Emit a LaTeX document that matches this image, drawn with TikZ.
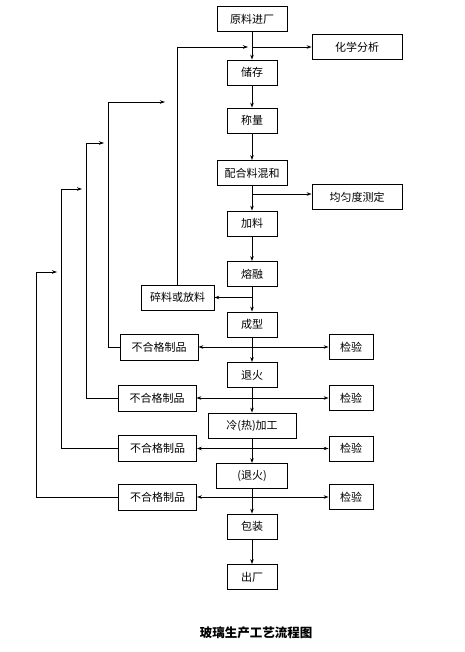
\documentclass[tikz,border=0pt]{standalone}
\usepackage{fontspec}
\newfontfamily\cjk{Noto Sans CJK SC}
\usetikzlibrary{arrows.meta}

\begin{document}
\begin{tikzpicture}[x=1pt,y=-1pt,line width=0.8pt,>={Stealth[length=5pt,width=3.5pt]},font=\cjk\fontsize{11}{13}\selectfont]
  \tikzstyle{stage}=[draw,minimum width=50pt,minimum height=25pt,inner sep=2pt]
  \tikzstyle{test}=[draw,minimum width=90pt,minimum height=25pt,inner sep=2pt]
  \tikzstyle{reject}=[draw,minimum width=78pt,minimum height=26pt,inner sep=2pt]
  \tikzstyle{check}=[draw,minimum width=44pt,minimum height=25pt,inner sep=2pt]
  \useasboundingbox (0,0) rectangle (464,652);
  % main line
  \node[stage,minimum width=70pt] (raw) at (252,19) {原料进厂};
  \node[stage] (store) at (252,72.5) {储存};
  \node[stage] (weigh) at (252,120.5) {称量};
  \node[stage,minimum width=70pt] (mix) at (252,173) {配合料混和};
  \node[stage] (feed) at (252,223.5) {加料};
  \node[stage] (melt) at (252,274) {熔融};
  \node[stage] (form) at (252,324.5) {成型};
  \node[stage] (anneal) at (252,375) {退火};
  \node[stage,minimum width=88pt] (work) at (252,425.5) {冷(热)加工};
  \node[stage,minimum width=71pt] (reanneal) at (252,476) {(退火)};
  \node[stage] (pack) at (252,526.5) {包装};
  \node[stage] (out) at (252,577) {出厂};
  % side boxes
  \node[test] (chem) at (357,47) {化学分析};
  \node[test] (even) at (357,197) {均匀度测定};
  \node[stage,minimum width=73pt] (cullet) at (177.5,297.5) {碎料或放料};
  \node[reject] (rejA) at (159,347) {不合格制品};
  \node[reject] (rejB) at (157,398) {不合格制品};
  \node[reject] (rejC) at (157.5,448.5) {不合格制品};
  \node[reject] (rejD) at (157.5,497) {不合格制品};
  \node[check] (chkA) at (351,347) {检验};
  \node[check] (chkB) at (351,398) {检验};
  \node[check] (chkC) at (351,448.5) {检验};
  \node[check] (chkD) at (351,497) {检验};
  \node[font=\cjk\bfseries\fontsize{12.5}{14}\selectfont] (title) at (256,633) {玻璃生产工艺流程图};
  % branch points on the main line
  \coordinate (bChem) at (252,47);
  \coordinate (bEven) at (252,194);
  \coordinate (bCul) at (252,297.5);
  \coordinate (bA) at (252,347);
  \coordinate (bB) at (252,398);
  \coordinate (bC) at (252,448.5);
  \coordinate (bD) at (252,497);
  % free ends of the return loops
  \coordinate (eCul) at (248,47);
  \coordinate (eA) at (165,102);
  \coordinate (eB) at (104,143);
  \coordinate (eC) at (82,189);
  \coordinate (eD) at (57,272);
  \draw[->] (raw) -- (store);
  \draw[->] (store) -- (weigh);
  \draw[->] (weigh) -- (mix);
  \draw[->] (mix) -- (feed);
  \draw[->] (feed) -- (melt);
  \draw[->] (melt) -- (form);
  \draw[->] (form) -- (anneal);
  \draw[->] (anneal) -- (work);
  \draw[->] (work) -- (reanneal);
  \draw[->] (reanneal) -- (pack);
  \draw[->] (pack) -- (out);
  \draw[->] (bChem) -- (bChem -| chem.west);
  \draw[->] (bEven) -- (bEven -| even.west);
  \draw[->] (bCul) -- (cullet);
  \foreach \b/\r/\c in {bA/rejA/chkA,bB/rejB/chkB,bC/rejC/chkC,bD/rejD/chkD}{
    \draw[->] (\b) -- (\r);
    \draw[->] (\b) -- (\c);
  }
  % return loops
  \draw[->] (cullet.north) |- (eCul);
  \draw[->] (rejA.west) -| (108,102) -- (eA);
  \draw[->] (rejB.west) -| (86,143) -- (eB);
  \draw[->] (rejC.west) -| (61,189) -- (eC);
  \draw[->] (rejD.west) -| (36,272) -- (eD);
\end{tikzpicture}
\end{document}
